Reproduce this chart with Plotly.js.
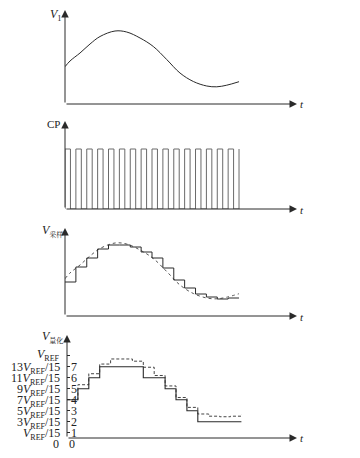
<!DOCTYPE html>
<html>
<head>
<meta charset="utf-8">
<script src="https://cdn.plot.ly/plotly-3.0.1.min.js"></script>
<style>html,body{margin:0;padding:0;background:#fff;}#chart{width:360px;height:458px;}</style>
</head>
<body>
<div id="chart"></div>
<script>
// ---- data (time in clock periods) ----
const curveT = [0, 0.46, 1.38, 2.3, 3.22, 4.6, 5.67, 6.9, 8.12, 9.35, 10.57, 11.8, 13.03, 13.95, 14.87, 16];
const curveV = [3.73, 4.3, 5.1, 6.0, 6.75, 7.3, 7.2, 6.6, 5.75, 4.45, 3.1, 2.25, 1.8, 1.72, 1.88, 2.23];
const clockRise = [0, 1, 2, 3, 4, 5, 6, 7, 8, 9, 10, 11, 12, 13, 14, 15, 16];
const clockDuty = 0.5;
const sampled = [3.4, 4.9, 5.8, 6.7, 7.1, 7.1, 6.9, 6.4, 5.8, 4.8, 3.6, 2.8, 2.2, 1.9, 1.7, 1.8];
const quantLevels = [4, 5, 6, 7, 7, 7, 7, 6, 6, 5, 4, 3, 2, 2, 2, 2];
const sampledLevels = [4, 5.36, 6.36, 7.24, 7.7, 7.7, 7.5, 6.95, 6.2, 5.25, 4.2, 3.3, 2.7, 2.5, 2.45, 2.5];
const sampledLevelsEnd = 2.65;
const levelTicks = [1, 2, 3, 4, 5, 6, 7, 8];
const levelDigits = ['1', '2', '3', '4', '5', '6', '7'];
const levelNumerators = ['', '3', '5', '7', '9', '11', '13'];

// ---- helpers ----
function stepXY(vals, endVal) {
  const x = vals.map((_, i) => i);
  const y = vals.slice();
  x.push(vals.length);
  y.push(endVal === undefined ? vals[vals.length - 1] : endVal);
  return {x, y};
}
const cpX = [], cpY = [];
clockRise.forEach((r, i) => {
  if (i < clockRise.length - 1) {
    cpX.push(r, r, r + clockDuty, r + clockDuty);
    cpY.push(0, 1, 1, 0);
  } else {
    cpX.push(r, r);
    cpY.push(0, 1);
  }
});

const s3 = stepXY(sampled);
const q4 = stepXY(quantLevels);
const d4 = stepXY(sampledLevels, sampledLevelsEnd);

const ink = '#2a2a2a';
const traces = [
  {x: curveT, y: curveV, xaxis: 'x', yaxis: 'y', mode: 'lines',
   line: {color: ink, width: 1, shape: 'spline'}},
  {x: cpX, y: cpY, xaxis: 'x2', yaxis: 'y2', mode: 'lines',
   line: {color: '#6a6a6a', width: 1}},
  {x: curveT, y: curveV, xaxis: 'x3', yaxis: 'y3', mode: 'lines',
   line: {color: '#555', width: 1, shape: 'spline', dash: 'dot'}},
  {x: s3.x, y: s3.y, xaxis: 'x3', yaxis: 'y3', mode: 'lines',
   line: {color: ink, width: 1, shape: 'hv'}},
  {x: d4.x, y: d4.y, xaxis: 'x4', yaxis: 'y4', mode: 'lines',
   line: {color: '#444', width: 1, shape: 'hv', dash: '3px,2px'}},
  {x: q4.x, y: q4.y, xaxis: 'x4', yaxis: 'y4', mode: 'lines',
   line: {color: ink, width: 1.1, shape: 'hv'}}
];

const H = 458, W = 360;
const py = v => 1 - v / H;
const px = v => v / W;
const hidden = {showgrid: false, zeroline: false, showline: false, showticklabels: false, ticks: ''};

const serif = 'Liberation Serif, Times New Roman, Noto Serif CJK SC, Noto Sans CJK SC, serif';
const ann = [];
function arrow(n, x, y, ax, ay) {
  const s = n === 1 ? '' : String(n);
  ann.push({xref: 'x' + s, yref: 'y' + s, axref: 'x' + s, ayref: 'y' + s,
    x: x, y: y, ax: ax, ay: ay, text: '', showarrow: true,
    arrowhead: 2, arrowsize: 1.5, arrowwidth: 1, arrowcolor: ink, standoff: 0, startstandoff: 0});
}
arrow(1, 0, 9.4, 0, 0);   arrow(1, 21.33, 0, 0, 0);
arrow(2, 0, 1.467, 0, 0); arrow(2, 21.33, 0, 0, 0);
arrow(3, 0, 8.8, 0, 0);   arrow(3, 21.33, 0, 0, 0);
arrow(4, 0, 9.88, 0, 0.518); arrow(4, 21.1, 0.518, 0, 0.518);

function label(text, x, y, xanchor, size) {
  ann.push({xref: 'paper', yref: 'paper', x: px(x), y: py(y), text: text, showarrow: false,
    xanchor: xanchor || 'left', yanchor: 'middle', font: {family: serif, size: size || 11, color: '#222'}});
}
label('<i>V</i><sub>1</sub>', 48, 15, 'left', 12);
label('CP', 45, 124, 'left', 11);
label('<i>V</i><sub><span style="font-size:7px">采样</span></sub>', 40, 231, 'left', 12);
label('<i>V</i><sub><span style="font-size:7px">量化</span></sub>', 40, 337, 'left', 12);
[104, 210, 317, 438].forEach(yy => label('<i>t</i>', 302, yy, 'center', 11));

// panel 4 level labels (level k sits at 443.7 - 11k px)
const levelPx = k => 443.7 - 11 * k;
const refSub = '<sub><span style="font-size:8px">REF</span></sub>';
levelNumerators.forEach((num, i) => {
  ann.push({xref: 'paper', yref: 'paper', x: px(62), y: py(levelPx(i + 1)), yshift: -1,
    text: num + '<i>V</i>' + refSub + '/15', showarrow: false, xanchor: 'right', yanchor: 'middle',
    font: {family: serif, size: 12, color: '#222'}});
});
levelDigits.forEach((d, i) => {
  ann.push({xref: 'paper', yref: 'paper', x: px(69), y: py(levelPx(i + 1)), text: d,
    showarrow: false, xanchor: 'left', yanchor: 'middle',
    font: {family: serif, size: 12, color: '#222'}});
});
ann.push({xref: 'paper', yref: 'paper', x: px(62), y: py(levelPx(8)), yshift: 1,
  text: '<i>V</i>' + refSub, showarrow: false, xanchor: 'right', yanchor: 'middle',
  font: {family: serif, size: 12, color: '#222'}});
ann.push({xref: 'paper', yref: 'paper', x: px(56), y: py(443.5), text: '0', showarrow: false,
  xanchor: 'center', yanchor: 'middle', font: {family: serif, size: 12, color: '#222'}});
ann.push({xref: 'paper', yref: 'paper', x: px(71.5), y: py(443.5), text: '0', showarrow: false,
  xanchor: 'center', yanchor: 'middle', font: {family: serif, size: 12, color: '#222'}});

const layout = {
  width: W, height: H, margin: {l: 0, r: 0, t: 0, b: 0},
  paper_bgcolor: '#fff', plot_bgcolor: 'rgba(0,0,0,0)', showlegend: false,
  xaxis: Object.assign({domain: [px(65), px(297)], range: [0, 21.33], anchor: 'y'}, hidden),
  yaxis: Object.assign({domain: [py(104), py(10)], range: [0, 9.4], anchor: 'x'}, hidden),
  xaxis2: Object.assign({domain: [px(65), px(297)], range: [0, 21.33], anchor: 'y2'}, hidden),
  yaxis2: Object.assign({domain: [py(209), py(121)], range: [0, 1.467], anchor: 'x2'}, hidden),
  xaxis3: Object.assign({domain: [px(65), px(297)], range: [0, 21.33], anchor: 'y3'}, hidden),
  yaxis3: Object.assign({domain: [py(316), py(228)], range: [0, 8.8], anchor: 'x3'}, hidden),
  xaxis4: Object.assign({domain: [px(67), px(297)], range: [0, 21.1], anchor: 'y4'}, hidden),
  yaxis4: {domain: [py(438), py(335)], range: [0.518, 9.88], anchor: 'x4',
    showgrid: false, zeroline: false, showline: false, showticklabels: false,
    tickmode: 'array', tickvals: levelTicks,
    ticks: 'inside', ticklen: 3, tickwidth: 1, tickcolor: ink},
  annotations: ann
};

Plotly.newPlot('chart', traces, layout, {staticPlot: true, displayModeBar: false});
</script>
</body>
</html>
